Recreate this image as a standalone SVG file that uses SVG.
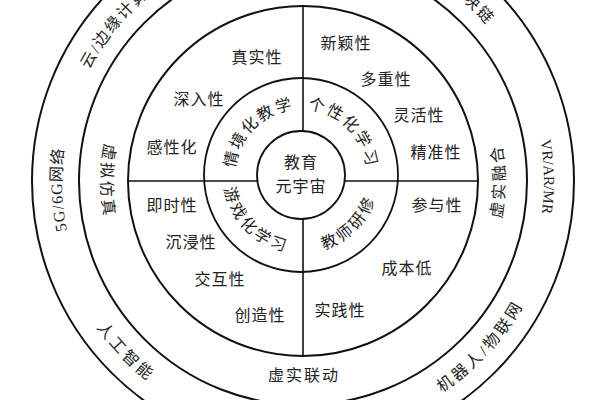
<svg xmlns="http://www.w3.org/2000/svg" width="600" height="400" viewBox="0 0 600 400">
<style>
.ring{fill:none;stroke:#111;stroke-width:2}
.iring{fill:none;stroke:#111;stroke-width:1.8}
.div{stroke:#111;stroke-width:1.6;fill:none}
.t{font-family:"Noto Sans CJK SC","Noto Sans",sans-serif;font-size:16px;fill:#222;letter-spacing:1px}
.c{text-anchor:middle}
.a{font-family:"Noto Sans CJK SC",sans-serif;font-size:16px;fill:#222;letter-spacing:2px}
.ai{font-family:"Noto Sans CJK SC",sans-serif;font-size:16px;fill:#222;letter-spacing:3px}
.o{font-family:"Liberation Serif","Noto Sans CJK SC",serif;font-size:16px;fill:#222;letter-spacing:2px}
.oi{font-family:"Liberation Serif","Noto Sans CJK SC",serif;font-size:16px;fill:#222;letter-spacing:3px}
</style>
<defs>
<path id="p-qj" d="M237.25,192.08 A66,66 0 0 1 318.08,111.25"/>
<path id="p-gx" d="M283.92,111.25 A66,66 0 0 1 364.75,192.08"/>
<path id="p-yx" d="M225.66,154.81 A78,78 0 0 0 321.19,250.34"/>
<path id="p-js" d="M280.81,250.34 A78,78 0 0 0 376.34,154.81"/>
<path id="p-xnfz" d="M202,6.1 A202,202 0 0 0 202,355.9"/>
<path id="p-xsrh" d="M404,355.9 A202,202 0 0 0 404,6.1"/>
<path id="p-5g" d="M189.9,393.8 A241,241 0 0 1 175.3,-23.4"/>
<path id="p-vr" d="M419.8,-29.8 A241,241 0 0 1 427.1,387.6"/>
<path id="p-yun" d="M78,267.4 A241,241 0 0 1 340.7,-57"/>
<path id="p-qkl" d="M234.6,-50.1 A241,241 0 0 1 537.3,237.3"/>
<path id="p-rgzn" d="M59.8,111.3 A253,253 0 0 0 364.2,426.5"/>
<path id="p-jqr" d="M246.1,427.5 A253,253 0 0 0 544.9,107"/>
</defs>
<rect width="600" height="400" fill="#fff"/>

<g id="rings">
<circle class="ring" cx="303" cy="181" r="271"/>
<circle class="ring" cx="303" cy="181" r="224"/>
<circle class="ring" cx="303" cy="181" r="175"/>
<circle class="iring" cx="301" cy="175" r="97"/>
</g>

<g id="connectors">
<line class="div" x1="128" y1="181" x2="257.4" y2="181"/>
<line class="div" x1="344.6" y1="181" x2="478" y2="181"/>
<line class="div" x1="303" y1="6" x2="303" y2="131"/>
<line class="div" x1="303" y1="219" x2="303" y2="356"/>
</g>

<g id="node-core">
<circle class="iring" cx="301" cy="175" r="44"/>
<text class="t c" x="301" y="168">教育</text>
<text class="t c" x="301" y="192">元宇宙</text>
</g>

<g id="node-qingjing"><text class="a"><textPath href="#p-qj" startOffset="50%" text-anchor="middle">情境化教学</textPath></text></g>
<g id="node-gexing"><text class="a"><textPath href="#p-gx" startOffset="50%" text-anchor="middle">个性化学习</textPath></text></g>
<g id="node-youxi"><text class="ai"><textPath href="#p-yx" startOffset="50%" text-anchor="middle">游戏化学习</textPath></text></g>
<g id="node-jiaoshi"><text class="ai"><textPath href="#p-js" startOffset="50%" text-anchor="middle">教师研修</textPath></text></g>

<g id="node-attributes">
<text class="t c" x="257" y="63">真实性</text>
<text class="t c" x="346" y="49">新颖性</text>
<text class="t c" x="199" y="105">深入性</text>
<text class="t c" x="386" y="85">多重性</text>
<text class="t c" x="172" y="153">感性化</text>
<text class="t c" x="419" y="121">灵活性</text>
<text class="t c" x="436" y="158">精准性</text>
<text class="t c" x="172" y="211">即时性</text>
<text class="t c" x="437" y="211">参与性</text>
<text class="t c" x="191" y="248">沉浸性</text>
<text class="t c" x="220" y="285">交互性</text>
<text class="t c" x="407" y="274">成本低</text>
<text class="t c" x="260" y="321">创造性</text>
<text class="t c" x="340" y="316">实践性</text>
</g>

<g id="node-xunifangzhen"><text class="ai"><textPath href="#p-xnfz" startOffset="50%" text-anchor="middle">虚拟仿真</textPath></text></g>
<g id="node-xushironghe"><text class="ai"><textPath href="#p-xsrh" startOffset="50%" text-anchor="middle">虚实融合</textPath></text></g>
<g id="node-xushiliandong"><text class="t c" x="304" y="381" style="letter-spacing:2px">虚实联动</text></g>

<g id="node-5g"><text class="o" style="letter-spacing:1px"><textPath href="#p-5g" startOffset="50%" text-anchor="middle">5G/6G网络</textPath></text></g>
<g id="node-vr"><text class="o" style="font-size:15px;letter-spacing:0"><textPath href="#p-vr" startOffset="50%" text-anchor="middle">VR/AR/MR</textPath></text></g>
<g id="node-yun"><text class="o"><textPath href="#p-yun" startOffset="50%" text-anchor="middle">云/边缘计算</textPath></text></g>
<g id="node-qukuailian"><text class="o"><textPath href="#p-qkl" startOffset="50%" text-anchor="middle">区块链</textPath></text></g>
<g id="node-rengong"><text class="oi"><textPath href="#p-rgzn" startOffset="50%" text-anchor="middle">人工智能</textPath></text></g>
<g id="node-jiqiren"><text class="oi"><textPath href="#p-jqr" startOffset="50%" text-anchor="middle">机器人/物联网</textPath></text></g>
</svg>
